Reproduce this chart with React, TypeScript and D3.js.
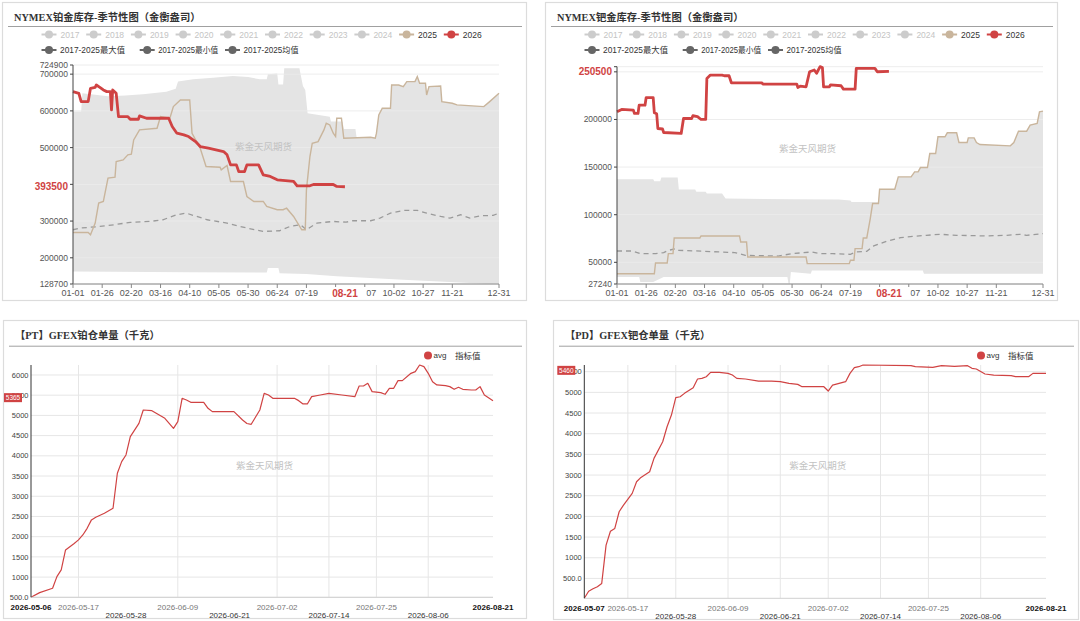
import React from "react";
import * as d3 from "d3";

type P = [number, number];

// ---------------- shared labels ----------------
const seasonLegendYears = ["2017", "2018", "2019", "2020", "2021", "2022", "2023", "2024", "2025", "2026"];
const seasonLegendStats = ["2017-2025最大值", "2017-2025最小值", "2017-2025均值"];
const seasonTickLabels = ["01-01", "01-26", "02-20", "03-16", "04-10", "05-05", "05-30", "06-24", "07-19", "08-13", "09-07", "10-02", "10-27", "11-21", "12-31"];
const seasonLatestDate = "08-21";
const watermark = "紫金天风期货";

// ---------------- NYMEX platinum (day of year, ounces) ----------------
const ptTitle = "NYMEX铂金库存-季节性图（金衡盎司）";
const ptYDomain = [128700, 724900];
const ptYTicks = [128700, 200000, 300000, 400000, 500000, 600000, 700000, 724900];
const ptLatest = 393500;
const ptBandMax: P[] = [[0, 598000], [7, 598000], [8, 648000], [30, 640000], [45, 642000], [60, 645000], [80, 652000], [88, 660000], [90, 680000], [103, 686000], [120, 690000], [137, 695000], [150, 692000], [160, 686000], [166, 686000], [167, 700000], [175, 702000], [176, 672000], [180, 672000], [181, 716000], [194, 716000], [197, 668000], [199, 657000], [201, 593500], [220, 584000], [221, 571000], [231, 571000], [232, 551000], [242, 551000], [243, 527000], [255, 528300], [259, 525600], [260, 539200], [262, 589000], [265, 607100], [272, 607100], [273, 670500], [279, 670500], [283, 666000], [286, 679600], [293, 679600], [295, 693200], [297, 675100], [302, 675100], [303, 643300], [305, 666000], [315, 667800], [316, 625200], [325, 620700], [329, 616200], [352, 611600], [357, 625200], [365, 647900]];
const ptBandMin: P[] = [[0, 163000], [100, 161000], [166, 160000], [167, 172000], [176, 172000], [177, 158000], [200, 156000], [226, 149500], [283, 140500], [340, 131400], [355, 128700], [365, 129500]];
const ptAvg: P[] = [[0, 276400], [6, 280900], [23, 285400], [35, 290000], [49, 296300], [66, 299000], [77, 303600], [89, 317200], [97, 321700], [106, 312600], [115, 303600], [132, 294500], [149, 280900], [163, 271900], [177, 273700], [186, 285400], [195, 290000], [200, 276400], [209, 294500], [223, 299000], [234, 297000], [240, 300900], [255, 300900], [263, 308100], [272, 321700], [283, 328900], [295, 328900], [303, 321700], [315, 312600], [323, 308100], [332, 317200], [340, 308100], [349, 314500], [360, 315400], [365, 321700]];
const pt2025: P[] = [[0, 269100], [13, 269100], [15, 262800], [19, 294500], [22, 348900], [26, 353400], [30, 416800], [36, 419500], [37, 462100], [43, 466600], [47, 480300], [50, 482000], [52, 521000], [57, 548200], [72, 552700], [75, 584300], [83, 579900], [86, 611600], [92, 629800], [100, 629800], [102, 539200], [109, 498400], [114, 448500], [126, 446700], [127, 439500], [132, 451300], [135, 407800], [146, 407800], [149, 367000], [155, 353400], [163, 353400], [166, 339800], [175, 330800], [180, 330800], [183, 335000], [189, 312600], [196, 276400], [199, 276400], [200, 385100], [203, 475700], [205, 512000], [210, 516500], [215, 548200], [217, 566300], [220, 561800], [223, 539200], [225, 530100], [226, 579900], [230, 579900], [232, 525600], [255, 528300], [259, 525600], [260, 539200], [262, 589000], [265, 607100], [272, 607100], [273, 670500], [279, 670500], [283, 666000], [286, 679600], [293, 679600], [295, 693200], [297, 675100], [302, 675100], [303, 643300], [305, 666000], [315, 667800], [316, 625200], [325, 620700], [329, 616200], [352, 611600], [357, 625200], [365, 647900]];
const pt2026: P[] = [[0, 652400], [5, 647900], [7, 625200], [13, 625200], [15, 661500], [19, 664200], [20, 670500], [23, 664200], [26, 656900], [29, 652400], [32, 652400], [33, 602600], [34, 656900], [37, 647900], [39, 584500], [47, 584500], [49, 577200], [56, 577200], [57, 586300], [63, 579900], [82, 579900], [85, 557300], [89, 539200], [95, 534600], [99, 530100], [105, 516500], [109, 502900], [116, 498400], [129, 489300], [132, 480300], [135, 453100], [140, 453100], [142, 434900], [147, 434900], [149, 453100], [159, 453100], [163, 425900], [169, 421400], [175, 412300], [189, 407800], [192, 396000], [203, 396000], [206, 399600], [223, 399600], [226, 394200], [233, 393500]];

// ---------------- NYMEX palladium ----------------
const pdTitle = "NYMEX钯金库存-季节性图（金衡盎司）";
const pdYDomain = [27240, 255400];
const pdYTicks = [27240, 50000, 100000, 150000, 200000, 250000, 255400];
const pdLatest = 250500;
const pdBandMax: P[] = [[0, 137300], [31, 137300], [32, 135200], [37, 135200], [38, 139000], [52, 139000], [53, 126400], [67, 126400], [68, 124000], [76, 124000], [77, 122200], [90, 122200], [93, 116900], [150, 116200], [190, 115900], [200, 115000], [201, 113400], [224, 113400], [225, 126700], [238, 126700], [241, 139700], [252, 139700], [255, 145000], [258, 145000], [260, 149500], [266, 149500], [268, 164200], [273, 164200], [275, 181800], [281, 181800], [283, 186000], [291, 186000], [293, 175800], [300, 175800], [301, 180700], [306, 180700], [308, 175800], [311, 173700], [337, 172300], [340, 175800], [344, 187700], [351, 187700], [354, 194000], [360, 195800], [362, 208000], [365, 208800]];
const pdBandMin: P[] = [[0, 34600], [19, 34600], [20, 29400], [31, 29400], [40, 34600], [146, 34600], [147, 27240], [148, 27240], [149, 39800], [166, 38000], [167, 41500], [262, 41500], [263, 38000], [365, 38000]];
const pdAvg: P[] = [[0, 61900], [13, 61900], [20, 59100], [33, 59100], [40, 60200], [44, 62600], [51, 64400], [53, 62600], [75, 61600], [87, 60900], [101, 60200], [110, 57300], [138, 56600], [150, 59100], [167, 60900], [174, 59100], [185, 59100], [200, 58400], [205, 60900], [214, 61600], [220, 67200], [231, 72100], [243, 75900], [254, 77300], [265, 78400], [277, 79400], [291, 78400], [317, 77700], [334, 78400], [345, 79400], [351, 78400], [365, 80100]];
const pd2025: P[] = [[0, 38000], [32, 38000], [33, 49300], [43, 49300], [44, 59100], [48, 59100], [49, 75600], [71, 75600], [72, 77700], [105, 77700], [106, 71400], [111, 71400], [112, 55600], [162, 55600], [163, 48600], [199, 48600], [200, 52100], [203, 52100], [204, 64400], [210, 64400], [211, 75600], [214, 75600], [217, 95900], [219, 111700], [224, 111700], [225, 126700], [238, 126700], [241, 139700], [252, 139700], [255, 145000], [258, 145000], [260, 149500], [266, 149500], [268, 164200], [273, 164200], [275, 181800], [281, 181800], [283, 186000], [291, 186000], [293, 175800], [300, 175800], [301, 180700], [306, 180700], [308, 175800], [311, 173700], [337, 172300], [340, 175800], [344, 187700], [351, 187700], [354, 194000], [360, 195800], [362, 208000], [365, 208800]];
const pd2026: P[] = [[0, 208000], [4, 210500], [14, 209800], [15, 206300], [18, 206300], [19, 215000], [24, 215000], [25, 223000], [31, 223000], [32, 207000], [34, 206000], [35, 190500], [39, 190000], [40, 186300], [55, 185300], [57, 201000], [64, 201000], [65, 203900], [69, 203000], [72, 200000], [76, 200000], [77, 243000], [80, 246600], [90, 246600], [92, 245900], [96, 245900], [98, 238500], [124, 238500], [125, 237200], [154, 237200], [155, 233600], [157, 235000], [162, 234300], [165, 250100], [169, 251900], [171, 248500], [174, 255400], [176, 254600], [177, 234300], [182, 234300], [183, 236400], [192, 235400], [194, 231900], [204, 231900], [205, 253600], [221, 253600], [223, 250100], [233, 250500]];

// ---------------- GFEX warrants (day offset from start, kg) ----------------
const whLegend = ["avg", "指标值"];
const ptWhTitle = "【PT】GFEX铂仓单量（千克）";
const ptWhStart = "2026-05-06";
const ptWhTickLabels = ["2026-05-06", "2026-05-17", "2026-05-28", "2026-06-09", "2026-06-21", "2026-07-02", "2026-07-14", "2026-07-25", "2026-08-06", "2026-08-21"];
const ptWhYDomain = [500, 6247];
const ptWhYTicks = [500, 1000, 1500, 2000, 2500, 3000, 3500, 4000, 4500, 5000, 5500, 6000];
const ptWh: P[] = [[0, 500], [2, 616], [5, 723], [6, 1012], [7, 1177], [8, 1671], [10, 1830], [11, 1920], [12, 2042], [13, 2207], [14, 2415], [15, 2480], [17, 2578], [19, 2702], [20, 3568], [21, 3856], [22, 4021], [23, 4475], [25, 4804], [26, 5134], [28, 5117], [29, 5052], [31, 4928], [33, 4681], [34, 4846], [35, 5423], [36, 5382], [37, 5324], [40, 5324], [41, 5176], [42, 5093], [47, 5093], [49, 4887], [50, 4800], [51, 4780], [53, 5134], [54, 5546], [55, 5505], [56, 5423], [61, 5423], [62, 5365], [63, 5283], [64, 5283], [65, 5464], [67, 5505], [69, 5546], [72, 5505], [75, 5464], [76, 5728], [77, 5728], [78, 5794], [79, 5588], [81, 5563], [82, 5522], [83, 5670], [84, 5670], [85, 5860], [86, 5860], [88, 6041], [89, 6082], [90, 6247], [91, 6206], [92, 6041], [93, 5835], [94, 5753], [96, 5736], [97, 5712], [98, 5646], [99, 5695], [100, 5646], [102, 5629], [103, 5629], [104, 5712], [105, 5505], [107, 5365]];

const pdWhTitle = "【PD】GFEX钯仓单量（千克）";
const pdWhStart = "2026-05-07";
const pdWhTickLabels = ["2026-05-07", "2026-05-17", "2026-05-28", "2026-06-09", "2026-06-21", "2026-07-02", "2026-07-14", "2026-07-25", "2026-08-06", "2026-08-21"];
const pdWhYDomain = [19, 5662];
const pdWhYTicks = [500, 1000, 1500, 2000, 2500, 3000, 3500, 4000, 4500, 5000, 5500];
const pdWh: P[] = [[0, 19], [1, 190], [2, 250], [3, 300], [4, 379], [5, 1306], [6, 1640], [7, 1709], [8, 2113], [9, 2274], [11, 2556], [12, 2838], [13, 2943], [15, 3080], [16, 3403], [18, 3806], [19, 4169], [20, 4452], [21, 4871], [22, 4895], [23, 4976], [25, 5113], [26, 5323], [27, 5339], [28, 5379], [29, 5484], [31, 5484], [33, 5460], [34, 5419], [35, 5339], [37, 5323], [40, 5274], [43, 5274], [45, 5258], [47, 5218], [49, 5194], [50, 5137], [55, 5137], [56, 5032], [57, 5177], [60, 5258], [61, 5460], [62, 5597], [63, 5621], [64, 5662], [75, 5645], [76, 5621], [80, 5605], [82, 5645], [85, 5629], [88, 5645], [89, 5581], [90, 5565], [92, 5444], [94, 5419], [98, 5403], [99, 5379], [102, 5379], [103, 5460], [106, 5460]];

// ---------------- helpers ----------------
const SANS = "'Liberation Sans','Noto Sans CJK SC',sans-serif";
const TITLE = "'Liberation Serif','Noto Sans CJK SC',serif";
const RED = "#d04343";
const TAN = "#c9b59c";
const BAND = "#e4e4e4";

const BASE_YEAR = 2024;
const doy = (md: string) => {
  const [m, d] = md.split("-").map(Number);
  return d3.timeDay.count(new Date(BASE_YEAR, 0, 1), new Date(BASE_YEAR, m - 1, d));
};
const parseDay = d3.timeParse("%Y-%m-%d");

type Box = { x: number; y: number; w: number; h: number };
type Plot = { l: number; r: number; t: number; b: number };

function LegendIcon({ x, y, color }: { x: number; y: number; color: string }) {
  return (
    <g>
      <line x1={x} x2={x + 15} y1={y} y2={y} stroke={color} strokeWidth={2} />
      <circle cx={x + 7.5} cy={y} r={4} fill={color} />
    </g>
  );
}

function PanelFrame({ box, title, dividerY }: { box: Box; title: string; dividerY: number }) {
  return (
    <g>
      <rect x={box.x + 0.5} y={box.y + 0.5} width={box.w} height={box.h} fill="#fff" stroke="#dcdcdc" strokeWidth={1.2} />
      <text x={box.x + 12} y={box.y + 18.5} fontFamily={TITLE} fontWeight="bold" fontSize={10.3} fill="#333">{title}</text>
      <line x1={box.x + 6} x2={box.x + box.w - 4} y1={dividerY} y2={dividerY} stroke="#a0a0a0" strokeWidth={1} />
    </g>
  );
}

type SeasonProps = {
  box: Box; plot: Plot; title: string; yDomain: number[]; yTicks: number[]; latest: number;
  bandMax: P[]; bandMin: P[]; avg: P[]; s2025: P[]; s2026: P[];
};

const statIconOffsets = [0, 98.2, 183.5];
const statTextLengths = [65, 60, 55];

function SeasonPanel(p: SeasonProps) {
  const { box, plot } = p;
  const x = d3.scaleLinear().domain([0, 365]).range([plot.l, plot.r]);
  const y = d3.scaleLinear().domain(p.yDomain).range([plot.b, plot.t]);
  const line = d3.line<P>().x((d) => x(d[0])).y((d) => y(d[1]));
  const band = line([...p.bandMax, ...p.bandMin.slice().reverse()]) + "Z";
  const latestY = y(p.latest);
  const latestX = x(doy(seasonLatestDate));
  const latestDoy = doy(seasonLatestDate);
  const lx = box.x + 39.5;
  return (
    <g>
      <PanelFrame box={box} title={p.title} dividerY={box.y + 24.5} />
      {/* legend */}
      {seasonLegendYears.map((yr, i) => {
        const active = i >= 8;
        const c = i === 8 ? TAN : i === 9 ? RED : "#cccccc";
        return (
          <g key={yr}>
            <LegendIcon x={lx + i * 44.7} y={box.y + 32.5} color={c} />
            <text x={lx + 19 + i * 44.7} y={box.y + 35.5} fontFamily={SANS} fontSize={8.5} fill={active ? "#333" : "#c4c4c4"}>{yr}</text>
          </g>
        );
      })}
      {seasonLegendStats.map((s, i) => {
        const ix = statIconOffsets[i];
        return (
          <g key={s}>
            <LegendIcon x={lx + ix} y={box.y + 48} color="#666" />
            <text x={lx + ix + 18.5} y={box.y + 51} fontFamily={SANS} fontSize={8.5} fill="#333"
              textLength={statTextLengths[i]} lengthAdjust="spacingAndGlyphs">{s}</text>
          </g>
        );
      })}
      {/* band */}
      <path d={band} fill={BAND} stroke="none" />
      {p.yTicks.map((t) => (
        <line key={t} x1={plot.l} x2={plot.r} y1={y(t)} y2={y(t)} stroke="#ececec" strokeWidth={1} opacity={0.9} />
      ))}
      <text x={plot.l + 162} y={plot.t + 85} fontFamily={SANS} fontSize={9.5} fill="#c2c2c2">{watermark}</text>
      <path d={line(p.avg)!} fill="none" stroke="#9a9a9a" strokeWidth={1.3} strokeDasharray="5,4" />
      <path d={line(p.s2025)!} fill="none" stroke={TAN} strokeWidth={1.4} />
      <path d={line(p.s2026)!} fill="none" stroke={RED} strokeWidth={2.8} strokeLinejoin="round" />
      {/* axes */}
      <line x1={plot.l} x2={plot.l} y1={plot.t} y2={plot.b} stroke="#444" strokeWidth={1} />
      <line x1={plot.l} x2={plot.r} y1={plot.b} y2={plot.b} stroke="#888" strokeWidth={1} />
      {p.yTicks.map((t) => {
        const ty = y(t);
        const hidden = Math.abs(ty - latestY) < 7;
        return (
          <g key={t}>
            <line x1={plot.l - 3} x2={plot.l} y1={ty} y2={ty} stroke="#444" />
            {!hidden && (
              <text x={plot.l - 5} y={ty} dy="0.35em" textAnchor="end" fontFamily={SANS} fontSize={8.5} fill="#555">{t}</text>
            )}
          </g>
        );
      })}
      {seasonTickLabels.map((lab) => {
        const d = doy(lab);
        const tx = x(d);
        const hidden = Math.abs(d - latestDoy) < 10 && d < latestDoy;
        return (
          <g key={lab}>
            <line x1={tx} x2={tx} y1={plot.b} y2={plot.b + 4} stroke="#888" />
            {!hidden && (
              <text x={tx} y={plot.b + 9} dy="0.35em" textAnchor="middle" fontFamily={SANS} fontSize={9} fill="#555">{lab}</text>
            )}
          </g>
        );
      })}
      {/* latest markers */}
      <rect x={latestX - 17} y={plot.b + 3} width={38.5} height={12} fill="#fff" />
      <text x={latestX} y={plot.b + 9.5} dy="0.35em" textAnchor="middle" fontFamily={SANS} fontWeight="bold" fontSize={10} fill={RED}>{seasonLatestDate}</text>
      <rect x={plot.l - 40} y={latestY - 6} width={36} height={12} fill="#fff" />
      <text x={plot.l - 5} y={latestY} dy="0.35em" textAnchor="end" fontFamily={SANS} fontWeight="bold" fontSize={10} fill={RED}>{p.latest}</text>
    </g>
  );
}

type WhProps = {
  box: Box; plot: Plot; title: string; start: string; ticks: string[]; gridIdx: number[];
  yDomain: number[]; yTicks: number[]; data: P[];
};

function WarrantPanel(p: WhProps) {
  const { box, plot } = p;
  const start = parseDay(p.start)!;
  const end = parseDay(p.ticks[p.ticks.length - 1])!;
  const x = d3.scaleTime().domain([start, end]).range([plot.l, plot.r]);
  const y = d3.scaleLinear().domain(p.yDomain).range([plot.b, plot.t]);
  const line = d3.line<P>().x((d) => x(d3.timeDay.offset(start, d[0]))).y((d) => y(d[1]));
  const last = p.data[p.data.length - 1][1];
  const ly = y(last) - 3;
  const n = p.ticks.length;
  return (
    <g>
      <PanelFrame box={box} title={p.title} dividerY={box.y + 26.2} />
      {/* legend */}
      <circle cx={plot.r - 65} cy={box.y + 35.5} r={4} fill={RED} />
      <text x={plot.r - 59.5} y={box.y + 38.3} fontFamily={SANS} fontSize={8} fill="#333">{whLegend[0]}</text>
      <text x={plot.r - 38} y={box.y + 38.5} fontFamily={SANS} fontSize={8.5} fill="#333">{whLegend[1]}</text>
      {/* grid */}
      {p.yTicks.map((t) => (
        <line key={t} x1={plot.l} x2={plot.r} y1={y(t)} y2={y(t)} stroke="#e6e6e6" strokeWidth={1} />
      ))}
      {p.gridIdx.map((i) => {
        const gx = x(parseDay(p.ticks[i])!);
        return <line key={i} x1={gx} x2={gx} y1={plot.t} y2={plot.b} stroke="#e6e6e6" strokeWidth={1} />;
      })}
      <text x={plot.l + 205} y={plot.t + 100.7} dy="0.35em" fontFamily={SANS} fontSize={9.5} fill="#c2c2c2">{watermark}</text>
      <path d={line(p.data)!} fill="none" stroke={RED} strokeWidth={1.2} strokeLinejoin="round" />
      {/* axes */}
      <line x1={plot.l} x2={plot.r} y1={plot.b} y2={plot.b} stroke="#d0d0d0" />
      <line x1={plot.l} x2={plot.l} y1={plot.t} y2={plot.b} stroke="#333" strokeWidth={1} />
      {p.yTicks.map((t) => (
        <text key={t} x={plot.l - 2.5} y={y(t)} dy="0.35em" textAnchor="end" fontFamily={SANS} fontSize={7.5} fill="#444">
          {t === 500 ? "500.0" : t}
        </text>
      ))}
      {p.ticks.map((lab, i) => {
        const edge = i === 0 || i === n - 1;
        const row2 = !edge && i % 2 === 0;
        const tx = x(parseDay(lab)!);
        return (
          <text key={lab} x={tx} y={row2 ? plot.b + 17.5 : plot.b + 9.5} dy="0.35em" textAnchor="middle" fontFamily={SANS}
            fontSize={8} fontWeight={edge ? "bold" : "normal"} fill={edge ? "#111" : row2 ? "#333" : "#777"}>{lab}</text>
        );
      })}
      {/* latest value badge */}
      <rect x={plot.l - 27} y={ly - 4.5} width={18} height={9} fill={RED} />
      <text x={plot.l - 18} y={ly} dy="0.35em" textAnchor="middle" fontFamily={SANS} fontSize={6.5} fill="#fff">{last}</text>
    </g>
  );
}

export default function App() {
  return (
    <svg width={1080} height={621} style={{ position: "absolute", left: 0, top: 0, background: "#fff", display: "block" }}>
      <rect x={0} y={0} width={1080} height={621} fill="#fff" />
      <SeasonPanel box={{ x: 2, y: 2, w: 524, h: 298 }} plot={{ l: 73, r: 499, t: 65, b: 284 }} title={ptTitle}
        yDomain={ptYDomain} yTicks={ptYTicks} latest={ptLatest} bandMax={ptBandMax} bandMin={ptBandMin}
        avg={ptAvg} s2025={pt2025} s2026={pt2026} />
      <SeasonPanel box={{ x: 545, y: 2, w: 512, h: 298 }} plot={{ l: 617, r: 1043, t: 66.7, b: 284 }} title={pdTitle}
        yDomain={pdYDomain} yTicks={pdYTicks} latest={pdLatest} bandMax={pdBandMax} bandMin={pdBandMin}
        avg={pdAvg} s2025={pd2025} s2026={pd2026} />
      <WarrantPanel box={{ x: 3, y: 320, w: 523, h: 298 }} plot={{ l: 31, r: 493, t: 365, b: 597.3 }} title={ptWhTitle}
        start={ptWhStart} ticks={ptWhTickLabels} gridIdx={[1, 3, 5, 6, 7, 8]} yDomain={ptWhYDomain} yTicks={ptWhYTicks} data={ptWh} />
      <WarrantPanel box={{ x: 553, y: 320, w: 525, h: 299 }} plot={{ l: 584.3, r: 1046, t: 365, b: 598.3 }} title={pdWhTitle}
        start={pdWhStart} ticks={pdWhTickLabels} gridIdx={[1, 2, 3, 4, 5, 6, 7, 8]} yDomain={pdWhYDomain} yTicks={pdWhYTicks} data={pdWh} />
    </svg>
  );
}
